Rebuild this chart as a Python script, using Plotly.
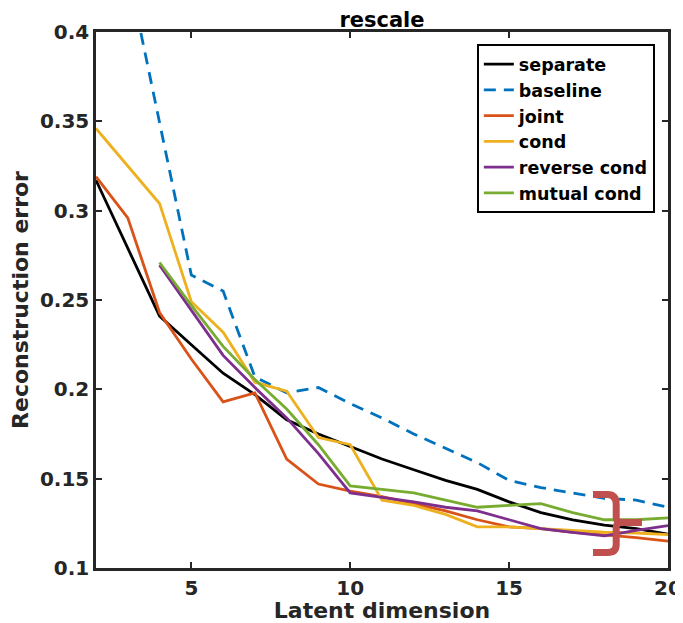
import plotly.graph_objects as go

x_dims = list(range(2, 21))

separate = [0.317, 0.279, 0.241, 0.225, 0.209, 0.197, 0.183, 0.175, 0.168, 0.161,
            0.155, 0.149, 0.144, 0.137, 0.131, 0.127, 0.124, 0.122, 0.119]
baseline = [0.52, 0.435, 0.350, 0.264, 0.255, 0.207, 0.198, 0.201, 0.192, 0.184,
            0.175, 0.167, 0.159, 0.149, 0.145, 0.142, 0.139, 0.138, 0.134]
joint = [0.319, 0.296, 0.243, 0.217, 0.193, 0.198, 0.161, 0.147, 0.143, 0.140,
         0.136, 0.132, 0.127, 0.123, 0.122, 0.120, 0.1185, 0.117, 0.115]
cond = [0.346, 0.325, 0.304, 0.249, 0.232, 0.204, 0.199, 0.173, 0.169, 0.138,
        0.135, 0.130, 0.123, 0.123, 0.122, 0.121, 0.120, 0.1196, 0.1187]
reverse_cond = [None, None, 0.2695, 0.2445, 0.219, 0.201, 0.184, 0.164, 0.142, 0.1395,
                0.137, 0.134, 0.132, 0.127, 0.122, 0.120, 0.118, 0.121, 0.1237]
mutual_cond = [None, None, 0.271, 0.247, 0.224, 0.2055, 0.189, 0.169, 0.146, 0.144,
               0.142, 0.138, 0.134, 0.135, 0.136, 0.131, 0.127, 0.127, 0.128]

series = [
    ("separate", separate, "#000000", "solid"),
    ("baseline", baseline, "#0072BD", "12px,8px"),
    ("joint", joint, "#D95319", "solid"),
    ("cond", cond, "#EDB120", "solid"),
    ("reverse cond", reverse_cond, "#7E2F8E", "solid"),
    ("mutual cond", mutual_cond, "#77AC30", "solid"),
]

y_ticks = [0.1, 0.15, 0.2, 0.25, 0.3, 0.35, 0.4]
y_tick_text = ["0.1", "0.15", "0.2", "0.25", "0.3", "0.35", "0.4"]
x_ticks = [5, 10, 15, 20]

fig = go.Figure()
for name, vals, color, dash in series:
    fig.add_trace(go.Scatter(x=x_dims, y=vals, name=name, mode="lines",
                             line=dict(color=color, width=2.8, dash=dash),
                             connectgaps=False))

font_main = dict(family="DejaVu Sans", size=20, color="#262626", weight="bold")

# page body has an 8px margin, so the figure is sized/placed to compensate
W, H = 675, 615
ML, MT, PW, PH = 88, 24, 572, 536

fig.update_layout(
    width=W, height=H,
    margin=dict(l=ML, r=W - ML - PW, t=MT, b=H - MT - PH),
    paper_bgcolor="white", plot_bgcolor="white",
    font=font_main,
    title=dict(text="rescale", x=(ML + PW / 2) / W, xanchor="center", y=1 - 12 / H,
               yanchor="middle", yref="container",
               font=dict(family="DejaVu Sans", size=21, color="#000000", weight="bold")),
    showlegend=True,
    legend=dict(x=0.977, xanchor="right", y=0.977, yanchor="top",
                bordercolor="#000000", borderwidth=2, bgcolor="white",
                font=dict(family="DejaVu Sans", size=17.5, color="#000000", weight="bold"),
                tracegroupgap=0, itemwidth=30),
)

fig.update_xaxes(range=[2, 20], tickvals=x_ticks, ticks="inside", ticklen=6,
                 tickwidth=2, tickcolor="#262626", showline=True, linewidth=2.5,
                 linecolor="#262626", mirror="ticks", showgrid=False, zeroline=False,
                 automargin=False,
                 title=dict(text="Latent dimension", standoff=0,
                            font=dict(family="DejaVu Sans", size=22, color="#262626", weight="bold")),
                 tickfont=font_main)
fig.update_yaxes(range=[0.1, 0.4], tickvals=y_ticks, ticktext=y_tick_text, ticks="inside",
                 ticklen=6, tickwidth=2, tickcolor="#262626", showline=True, linewidth=2.5,
                 linecolor="#262626", mirror="ticks", showgrid=False, zeroline=False,
                 automargin=False,
                 title=dict(text="Reconstruction error", standoff=6,
                            font=dict(family="DejaVu Sans", size=22, color="#262626", weight="bold")),
                 tickfont=font_main)

brace = ("M 17.64,0.1412 L 18.1,0.1412 Q 18.37,0.1412 18.37,0.1356 L 18.37,0.128 "
         "Q 18.37,0.1255 18.6,0.1255 L 19.18,0.1255 "
         "M 18.6,0.1255 Q 18.37,0.1255 18.37,0.123 L 18.37,0.1132 "
         "Q 18.37,0.1087 18.1,0.1087 L 17.64,0.1087")
fig.add_shape(type="path", path=brace, xref="x", yref="y",
              line=dict(color="#C0504D", width=7), layer="above")

fig.write_html("out.html")
